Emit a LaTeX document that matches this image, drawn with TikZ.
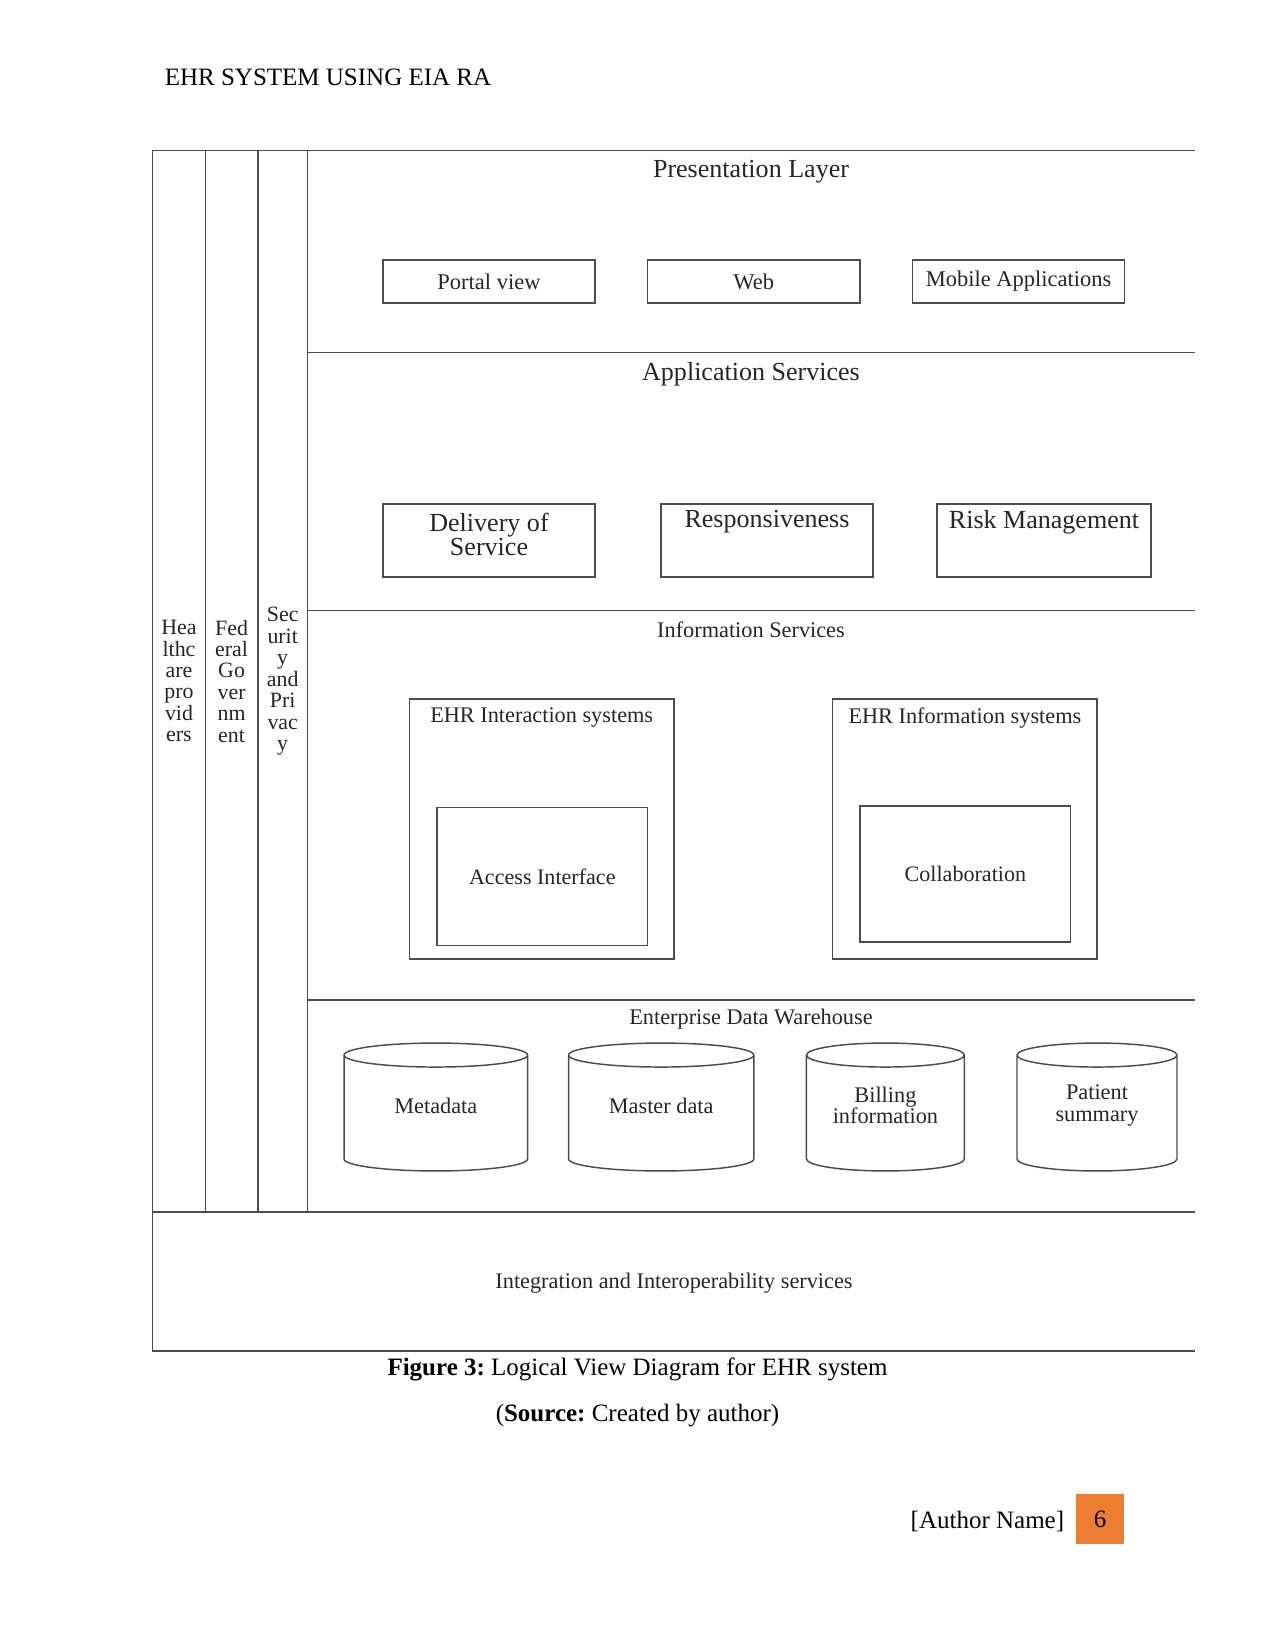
\documentclass[tikz,border=0pt]{standalone}
\usepackage{fontspec}
\setmainfont{Liberation Serif}
\usetikzlibrary{shapes.geometric}
\definecolor{pgorange}{HTML}{ED7D31}
\frenchspacing
\begin{document}
\begin{tikzpicture}[x=0.48pt,y=-0.48pt,
	ln/.style={draw=black!70,line width=0.7pt},
	b/.style={ln,inner sep=0pt,text=black!85,align=center},
	hd/.style={text=black!85,font=\fontsize{12.5}{11.5}\selectfont,align=center,yshift=-1.4pt},
	sm/.style={text=black!85,font=\fontsize{10.7}{10.3}\selectfont,align=center,yshift=-1.4pt},
	col/.style={b,minimum height=509.4pt,font=\fontsize{10.5}{10.3}\selectfont},
	pbox/.style={b,minimum width=101.8pt,minimum height=20.6pt,font=\fontsize{10.8}{12}\selectfont},
	abox/.style={b,minimum width=101.8pt,minimum height=35pt},
	obox/.style={b,minimum width=126.9pt,minimum height=124.8pt},
	ibox/.style={b,minimum width=101.1pt,minimum height=66pt,font=\fontsize{10.6}{12}\selectfont},
	cyl/.style={b,cylinder,shape border rotate=90,aspect=0.3,text width=38.4pt,minimum height=61.4pt,anchor=shape center},
	pg/.style={font=\fontsize{12}{14}\selectfont,yshift=-1.2pt}]
	\fill[white] (0,0) rectangle (1275,1651);
	\useasboundingbox (0,0) rectangle (1275,1651);
	\node[pg,anchor=base] (title) at (328,83) {EHR SYSTEM USING EIA RA};
	% frame and layers
	\draw[ln] (1195,150.5) -- (152.7,150.5) -- (152.7,1350.8) -- (1195,1350.8);
	\draw[ln] (307.4,352.7) -- (1195,352.7);
	\draw[ln] (307.4,610.6) -- (1195,610.6);
	\draw[ln] (307.4,1000.2) -- (1195,1000.2);
	\draw[ln] (152.7,1211.8) -- (1195,1211.8);
	\node[col,minimum width=25.2pt] (hcp) at (179,681.2) {Hea\\lthc\\are\\pro\\vid\\ers};
	\node[col,minimum width=25.2pt] (fed) at (231.6,681.2) {Fed\\eral\\Go\\ver\\nm\\ent};
	\node[col,minimum width=23.8pt] (sec) at (282.7,681.2) {Sec\\urit\\y\\and\\Pri\\vac\\y};
	% presentation layer
	\node[hd] (pres) at (751,168.5) {Presentation Layer};
	\node[pbox] (portal) at (489,281.5) {Portal view};
	\node[pbox] (web) at (753.8,281.5) {Web};
	\node[pbox] (mobile) at (1018.6,281.5) {Mobile Applications};
	% application services
	\node[hd] (apps) at (751,371.6) {Application Services};
	\node[abox] (deliv) at (489,540.5) {};
	\node[abox] (resp) at (767,540.5) {};
	\node[abox,minimum width=102.7pt] (risk) at (1044,540.5) {};
	\node[hd,yshift=1.4pt] (delivt) at (489,534) {Delivery of\\Service};
	\node[hd,yshift=1.4pt] (respt) at (767,522) {Responsiveness};
	\node[hd,yshift=1.4pt] (riskt) at (1044,522) {Risk Management};
	% information services
	\node[sm] (info) at (751,626.4) {Information Services};
	\node[obox] (inter) at (541.7,829) {};
	\node[obox] (infsys) at (964.9,829) {};
	\node[sm] (intert) at (541.7,715) {EHR Interaction systems};
	\node[sm] (infsyst) at (964.9,715) {EHR Information systems};
	\node[ibox,minimum height=66.2pt] (access) at (542.3,876.5) {Access Interface};
	\node[ibox,minimum height=65.3pt] (collab) at (965.4,874) {Collaboration};
	% data warehouse
	\node[sm] (edw) at (751,1016) {Enterprise Data Warehouse};
	\node[cyl,minimum width=88.1pt] (meta) at (435.8,1107) {};
	\node[cyl,minimum width=88.9pt] (master) at (661.2,1107) {};
	\node[cyl,minimum width=75.8pt] (bill) at (885.4,1107) {};
	\node[cyl,minimum width=76.8pt] (patient) at (1097,1107) {};
	\node[sm] (metat) at (435.8,1102.5) {Metadata};
	\node[sm] (mastert) at (661.2,1102.5) {Master data};
	\node[sm] (billt) at (885.4,1102.5) {Billing\\information};
	\node[sm] (patientt) at (1097,1102.5) {Patient\\summary};
	\node[sm] (integ) at (674,1280) {Integration and Interoperability services};
	% caption and footer
	\node[pg] (cap) at (637.5,1366.6) {\textbf{Figure 3:} Logical View Diagram for EHR system};
	\node[pg] (src) at (637.5,1413) {(\textbf{Source:} Created by author)};
	\node[pg] (author) at (987.4,1519) {[Author Name]};
	\node[pg,fill=pgorange,minimum width=23.2pt,minimum height=24.2pt,inner sep=0pt,yshift=1.2pt] (pnum) at (1100.2,1519.2) {6};
\end{tikzpicture}
\end{document}
